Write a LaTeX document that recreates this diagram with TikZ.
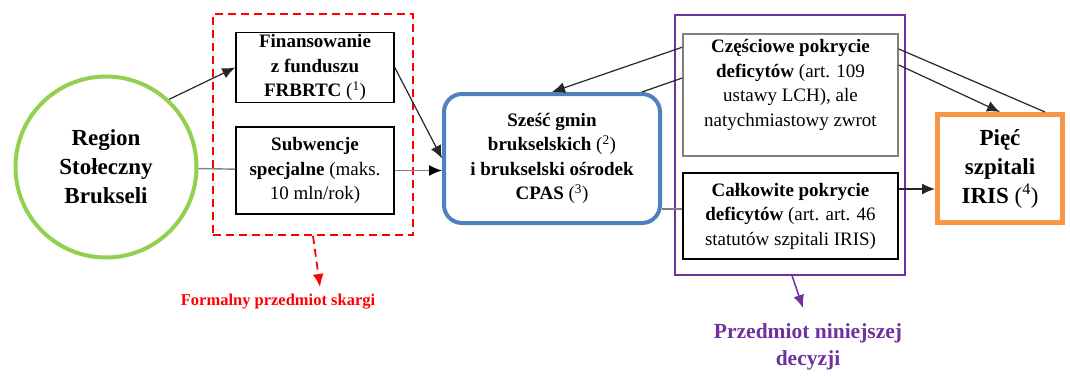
\documentclass[tikz,border=0pt]{standalone}
\usepackage{fontspec}
\setmainfont{Liberation Serif}
\usetikzlibrary{arrows.meta,shapes.geometric}
\definecolor{cgreen}{RGB}{146,208,80}
\definecolor{cblue}{RGB}{79,129,189}
\definecolor{corange}{RGB}{247,150,70}
\definecolor{cpurple}{RGB}{112,48,160}
\definecolor{cred}{RGB}{255,0,0}
\definecolor{cgray}{RGB}{128,128,128}
\tikzset{
  txt/.style={align=center, font=\fontsize{19}{24.5}\selectfont, inner sep=2pt},
  bigtxt/.style={align=center, font=\fontsize{23}{29}\selectfont\bfseries, inner sep=2pt},
  plainbox/.style={txt, draw=black, line width=1.5pt},
  arr/.style={-{Latex[length=13pt,width=11pt]}, line width=1.2pt, draw=black!85},
  garr/.style={line width=1.4pt, draw=cgray, -{Latex[length=13pt,width=11pt,color=black]}},
  gline/.style={line width=1.4pt, draw=cgray},
  bline/.style={line width=1.2pt, draw=black!85},
}
\begin{document}
\begin{tikzpicture}[x=1pt,y=1pt]
\useasboundingbox (0,0) rectangle (1070,376);
% groups
\node[draw=cred, line width=1.8pt, dash pattern=on 8pt off 5pt, minimum width=200, minimum height=221] (redbox) at (313,251.5) {};
\node[draw=cpurple, line width=1.2pt, minimum width=230, minimum height=260] (purp) at (790,231) {};
% nodes
\node[bigtxt, circle, draw=cgreen, line width=4pt, minimum size=181] (circ) at (106,209) {Region\\Stołeczny\\Brukseli};
\node[plainbox, minimum width=158, minimum height=67] (fin) at (315,308.5) {\textbf{Finansowanie}\\\textbf{z funduszu}\\\textbf{FRBRTC} (\textsuperscript{1})};
\node[plainbox, minimum width=158, minimum height=87] (sub) at (315,205.5) {\textbf{Subwencje}\\\textbf{specjalne} (maks.\\10 mln/rok)};
\node[txt, draw=cblue, line width=4pt, rounded corners=18pt, minimum width=216, minimum height=129] (blue) at (552,217.5) {\textbf{Sześć gmin}\\\textbf{brukselskich} (\textsuperscript{2})\\\textbf{i brukselski ośrodek}\\\textbf{CPAS} (\textsuperscript{3})};
\node[txt, draw=cgray, line width=1.5pt, minimum width=215, minimum height=122] (czes) at (790.5,281) {\textbf{Częściowe pokrycie}\\\textbf{deficytów} (art. 109\\ustawy LCH), ale\\natychmiastowy zwrot\\\mbox{}};
\node[plainbox, minimum width=215, minimum height=86] (calk) at (790.5,160) {\textbf{Całkowite pokrycie}\\\textbf{deficytów} (art. art. 46\\statutów szpitali IRIS)};
\node[bigtxt, draw=corange, line width=5pt, minimum width=125, minimum height=108] (piec) at (1000,207.5) {Pięć\\szpitali\\IRIS \mdseries(\textsuperscript{4})};
% labels
\node[font=\fontsize{16.5}{20}\selectfont\bfseries, text=cred] (redlbl) at (278,74) {Formalny przedmiot skargi};
\node[font=\fontsize{21.5}{27}\selectfont\bfseries, text=cpurple, align=center] (purlbl) at (808,29) {Przedmiot niniejszej\\decyzji};
\coordinate (redend) at (320,89);
\coordinate (purend) at (803,68);
% connectors
\draw[arr] (circ.47) -- (fin.west);
\draw[gline] (circ) -- (sub);
\draw[garr] (sub.east) -- (sub.east -| blue.west);
\draw[arr] (fin.east) -- (blue.west);
\draw[arr] ([yshift=-14pt]czes.north west) -- (blue.north);
\draw[bline] ([xshift=-20pt]blue.north east) -- ([yshift=17pt]czes.west);
\coordinate (c7) at ([yshift=7pt]calk.west);
\draw[gline] (c7) -- (c7 -| blue.east);
\coordinate (c8) at ([yshift=27pt]calk.east);
\draw[arr] (c8) -- (c8 -| piec.west);
\draw[arr] ([yshift=30pt]czes.east) -- (piec.north);
\draw[bline] ([yshift=46pt]czes.east) -- ([xshift=45pt]piec.north);
\draw[draw=cred, line width=1.8pt, dash pattern=on 8pt off 5pt, -{Latex[length=13pt,width=11pt]}] (redbox.south) -- (redend);
\draw[draw=cpurple, line width=1.5pt, -{Latex[length=13pt,width=11pt]}] ([xshift=2pt]purp.south) -- (purend);
\end{tikzpicture}
\end{document}
